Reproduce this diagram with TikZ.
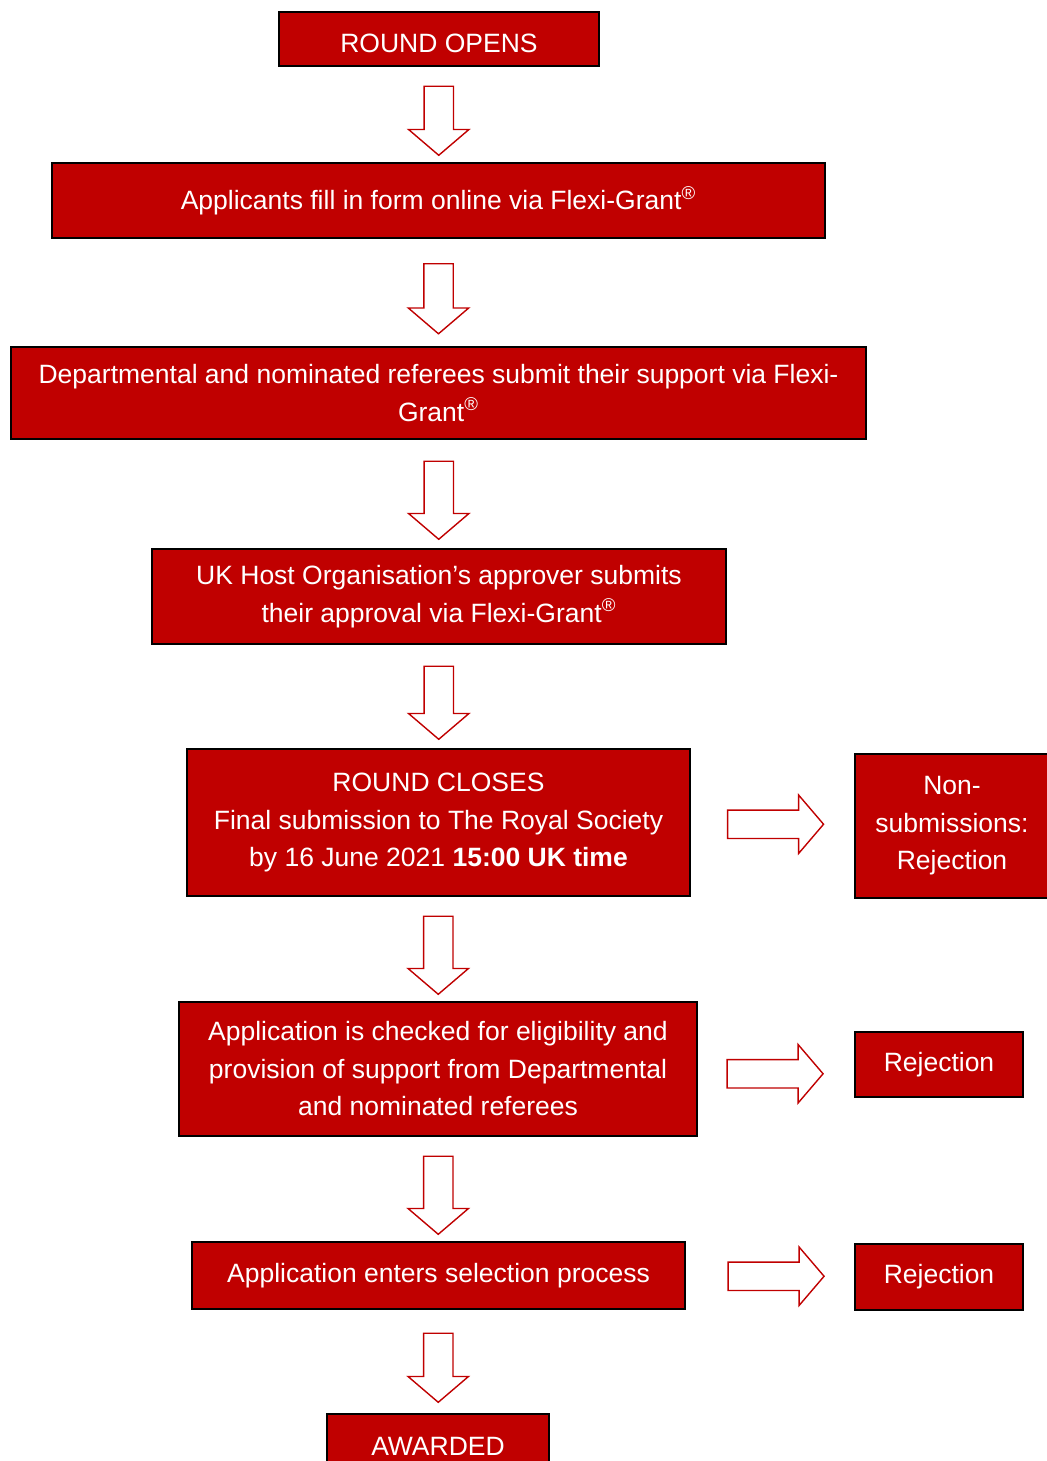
\documentclass[tikz,border=0pt]{standalone}
\usepackage{fontspec}
\setmainfont{Liberation Sans}
\usetikzlibrary{shapes.arrows, calc}
\definecolor{rsred}{HTML}{C00000}
\tikzset{
  stage/.style={draw=black, line width=1pt, fill=rsred, text=white, align=center,
    inner sep=0pt, font=\fontsize{13.25}{18.75}\selectfont},
  downarrow/.style={draw=rsred, fill=white, line width=0.7pt, single arrow,
    single arrow head extend=7.75pt, single arrow tip angle=99, inner xsep=0pt,
    inner ysep=7pt, minimum width=29.5pt, minimum height=#1, rotate=-90},
  downarrow/.default=34.5pt,
  rightarrow/.style={draw=rsred, fill=white, line width=0.7pt, single arrow,
    single arrow head extend=7.5pt, single arrow tip angle=99, inner xsep=0pt,
    inner ysep=6.75pt, minimum width=28.5pt, minimum height=48pt}
}
\begin{document}
\begin{tikzpicture}[x=0.5pt, y=-0.5pt]
    \useasboundingbox[fill=white] (0,0) rectangle (1047,1461);

    % main column
    \node[stage, minimum width=160pt, minimum height=27pt, text height=14pt] (opens) at (439,39) {ROUND OPENS};
    \node[stage, minimum width=386.5pt, minimum height=37.5pt] (form) at (438.5,200.5)
        {Applicants fill in form online via Flexi-Grant\textsuperscript{®}};
    \node[stage, minimum width=427.5pt, minimum height=46pt] (referees) at (438.5,393)
        {Departmental and nominated referees submit their support via Flexi-\\Grant\textsuperscript{®}};
    \node[stage, minimum width=287pt, minimum height=47.5pt] (host) at (439,596.5)
        {UK Host Organisation’s approver submits\\their approval via Flexi-Grant\textsuperscript{®}};
    \node[stage, minimum width=251.5pt, minimum height=73.5pt] (closes) at (438.5,822.5)
        {ROUND CLOSES\\Final submission to The Royal Society\\by 16 June 2021 \textbf{15:00 UK time}};
    \node[stage, minimum width=259pt, minimum height=67pt] (checked) at (438,1069)
        {Application is checked for eligibility and\\provision of support from Departmental\\and nominated referees};
    \node[stage, minimum width=246.5pt, minimum height=33.5pt] (selection) at (438.5,1275.5)
        {Application enters selection process};
    \node[stage, minimum width=111pt, minimum height=27pt, text height=14pt] (awarded) at (438,1441) {AWARDED};

    % rejections
    \node[stage, minimum width=97pt, minimum height=72pt] (nonsub) at (952,826)
        {Non-\\submissions:\\Rejection};
    \node[stage, minimum width=84pt, minimum height=32.5pt] (reject1) at (939,1064.5) {Rejection};
    \node[stage, minimum width=84pt, minimum height=33pt] (reject2) at (939,1277) {Rejection};

    % block arrows
    \node[downarrow] (arr1) at ($(opens.south)!0.5!(form.north)$) {};
    \node[downarrow=35pt] (arr2) at ($(form.south)!0.5!(referees.north)$) {};
    \node[downarrow=39pt] (arr3) at ($(referees.south)!0.5!(host.north)$) {};
    \node[downarrow=36.5pt] (arr4) at ($(host.south)!0.5!(closes.north)$) {};
    \node[downarrow=39pt] (arr5) at ($(closes.south)!0.5!(checked.north)$) {};
    \node[downarrow=39pt] (arr6) at ($(checked.south)!0.5!(selection.north)$) {};
    \node[downarrow] (arr7) at ($(selection.south)!0.5!(awarded.north)$) {};

    \node[rightarrow, xshift=-1.5pt] (side1) at ($(closes.east)!0.5!(nonsub.west)$) {};
    \node[rightarrow, xshift=-3.5pt, yshift=-3.5pt] (side2) at ($(checked.east)!0.5!(reject1.west)$) {};
    \node[rightarrow] (side3) at ($(selection.east)!0.5!(reject2.west)$) {};
\end{tikzpicture}
\end{document}
